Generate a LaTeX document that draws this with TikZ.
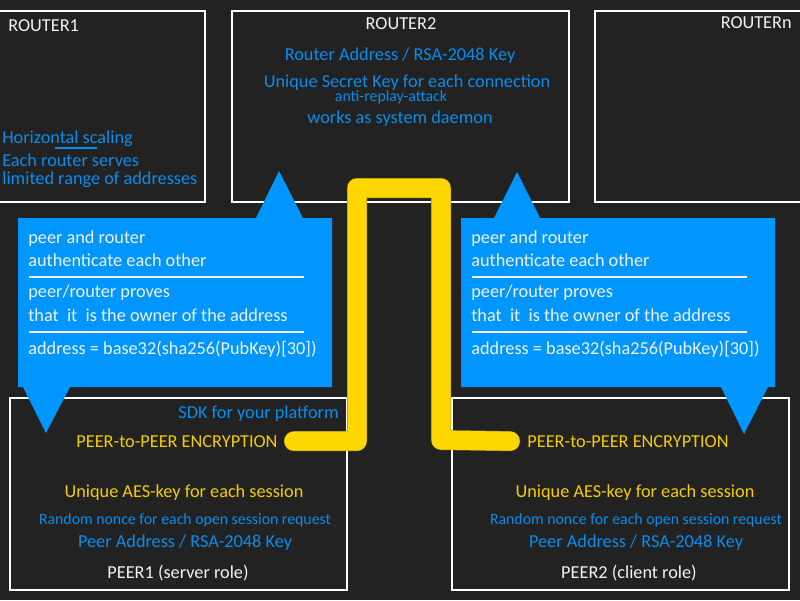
\documentclass[tikz,border=0pt]{standalone}
\usepackage{fontspec}
\setmainfont{Carlito}
\definecolor{bg}{HTML}{222222}
\definecolor{skyblue}{HTML}{0096FF}
\definecolor{txtblue}{HTML}{0A8CEB}
\definecolor{gold}{HTML}{FFD700}
\definecolor{darkgold}{HTML}{A88E10}
\definecolor{txtgold}{HTML}{F5CC00}
\definecolor{offwhite}{HTML}{F2F2F2}
\begin{document}
\begin{tikzpicture}[x=0.02cm,y=-0.02cm,
    box/.style={draw=white,line width=1.2pt},
    lbl/.style={inner sep=0pt,font=\fontsize{10.4}{12}\selectfont},
    small/.style={inner sep=0pt,font=\fontsize{9}{11}\selectfont},
    sep/.style={draw=offwhite,line width=1.1pt},
    wire/.style={draw=gold,line width=0.38cm,line cap=round,line join=round,
      preaction={draw=darkgold,line width=0.40cm,line cap=round,line join=round}}]
  \fill[bg] (0,0) rectangle (800,600);
  \useasboundingbox (0,0) rectangle (800,600);
  \draw[box] (-5,11) rectangle (205,202);
  \draw[box] (232,11) rectangle (569,202);
  \draw[box] (595,11) rectangle (805,202);
  \draw[box] (10,398) rectangle (347,590);
  \draw[box] (452,398) rectangle (789,590);
  \node[lbl,text=offwhite,anchor=base west] (R1) at (8,31) {ROUTER1};
  \node[lbl,text=txtblue,anchor=base west] (H1) at (2,143) {Horizontal scaling};
  \draw[txtblue,line width=1.1pt] (55,148) -- (97,148);
  \node[lbl,text=txtblue,anchor=base west] (H2) at (2,166) {Each router serves};
  \node[lbl,text=txtblue,anchor=base west] (H3) at (2,184) {limited range of addresses};
  \node[lbl,text=offwhite,anchor=base] (R2) at (401,29) {ROUTER2};
  \node[lbl,text=txtblue,anchor=base] (K1) at (400,60) {Router Address / RSA-2048 Key};
  \node[lbl,text=txtblue,anchor=base] (K2) at (407,87) {Unique Secret Key for each connection};
  \node[small,text=txtblue,anchor=base] (K3) at (391,101) {anti-replay-attack};
  \node[lbl,text=txtblue,anchor=base] (K4) at (400,123) {works as system daemon};
  \node[lbl,text=offwhite,anchor=base east] (Rn) at (792,28) {ROUTERn};
  \fill[skyblue] (18,218) rectangle (332,387) (256,218) -- (279,171) -- (303,218) -- cycle
    (23,387) -- (46,433) -- (70,387) -- cycle;
  \fill[skyblue] (461,218) rectangle (775,387) (494,218) -- (517,172) -- (540,218) -- cycle
    (721,387) -- (744,434) -- (768,387) -- cycle;
  \foreach \dx/\n in {0/L,443/R}{
    \begin{scope}[xshift=\dx*0.02cm]
      \node[lbl,text=offwhite,anchor=base west] (\n1) at (28,243) {peer and router};
      \node[lbl,text=offwhite,anchor=base west] (\n2) at (28,266) {authenticate each other};
      \draw[sep] (29,277) -- (304,277);
      \node[lbl,text=offwhite,anchor=base west] (\n3) at (28,297) {peer/router proves};
      \node[lbl,text=offwhite,anchor=base west] (\n4) at (28,321) {that\ \ it\ \ is the owner of the address};
      \draw[sep] (29,332) -- (304,332);
      \node[lbl,text=offwhite,anchor=base west] (\n5) at (28,354) {address = base32(sha256(PubKey)[30])};
    \end{scope}
  }
  \node[lbl,text=txtblue,anchor=base east] (S1) at (339,418) {SDK for your platform};
  \foreach \cx/\n/\role in {177/1/server,628/2/client}{
    \node[lbl,text=txtgold,anchor=base] (E\n) at (\cx,447) {PEER-to-PEER ENCRYPTION};
    \node[lbl,text=txtgold,anchor=base] (A\n) at (\cx+7,497) {Unique AES-key for each session};
    \node[small,text=txtblue,anchor=base] (N\n) at (\cx+8,524) {Random nonce for each open session request};
    \node[lbl,text=txtblue,anchor=base] (D\n) at (\cx+8,547) {Peer Address / RSA-2048 Key};
    \node[lbl,text=offwhite,anchor=base] (P\n) at (\cx+1,578) {PEER\n\ (\role\ role)};
  }
  \draw[wire] ([xshift=0.32cm]E1.east) -| (357,188) -| (441,440) -- ([xshift=-0.34cm]E2.west);
\end{tikzpicture}
\end{document}
